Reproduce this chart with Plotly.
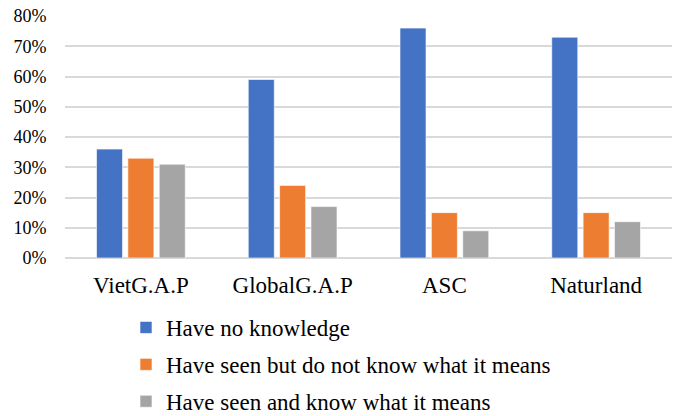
import plotly.graph_objects as go

categories = ["VietG.A.P", "GlobalG.A.P", "ASC", "Naturland"]
series_names = [
    "Have no knowledge",
    "Have seen but do not know what it means",
    "Have seen and know what it means",
]
no_knowledge = [36, 59, 76, 73]
seen_not_know = [33, 24, 15, 15]
seen_and_know = [31, 17, 9, 12]
y_ticks = [0, 10, 20, 30, 40, 50, 60, 70, 80]
y_tick_labels = ["0%", "10%", "20%", "30%", "40%", "50%", "60%", "70%", "80%"]

colors = ["#4472C4", "#ED7D31", "#A5A5A5"]
FONT = "Liberation Serif, Times New Roman, serif"

fig = go.Figure()
for i, (name, vals) in enumerate(zip(series_names, [no_knowledge, seen_not_know, seen_and_know])):
    fig.add_trace(go.Bar(
        x=categories, y=vals, name=name,
        marker=dict(color=colors[i], line=dict(color="rgba(255,255,255,0.6)", width=1)),
        legendgroup=f"g{i}",
    ))

W, H = 678, 416
L, R, T, B = 65, 6, 16, 158

fig.update_layout(
    width=W, height=H,
    margin=dict(l=L, r=R, t=T, b=B, pad=0, autoexpand=False),
    paper_bgcolor="white", plot_bgcolor="white",
    barmode="group", bargap=0.38, bargroupgap=0.17,
    font=dict(family=FONT, color="#000000"),
    showlegend=True,
    legend=dict(
        xref="container", yref="container",
        x=126 / W, y=1 - 306 / H,
        xanchor="left", yanchor="top",
        font=dict(family=FONT, size=23, color="#000000"),
        bgcolor="rgba(0,0,0,0)", tracegroupgap=4,
        orientation="v",
    ),
    xaxis=dict(
        showgrid=False, showline=False, zeroline=False,
        ticks="outside", ticklen=6, tickcolor="rgba(0,0,0,0)",
        tickfont=dict(family=FONT, size=23, color="#000000"),
    ),
    yaxis=dict(
        range=[0, 80], tickvals=y_ticks, ticktext=y_tick_labels,
        showgrid=True, gridcolor="#D9D9D9", gridwidth=1.5,
        zeroline=True, zerolinecolor="#D9D9D9", zerolinewidth=2,
        showline=False,
        ticks="outside", ticklen=14, tickcolor="rgba(0,0,0,0)",
        tickfont=dict(family=FONT, size=18, color="#000000"),
    ),
)

fig.write_html("out.html")
